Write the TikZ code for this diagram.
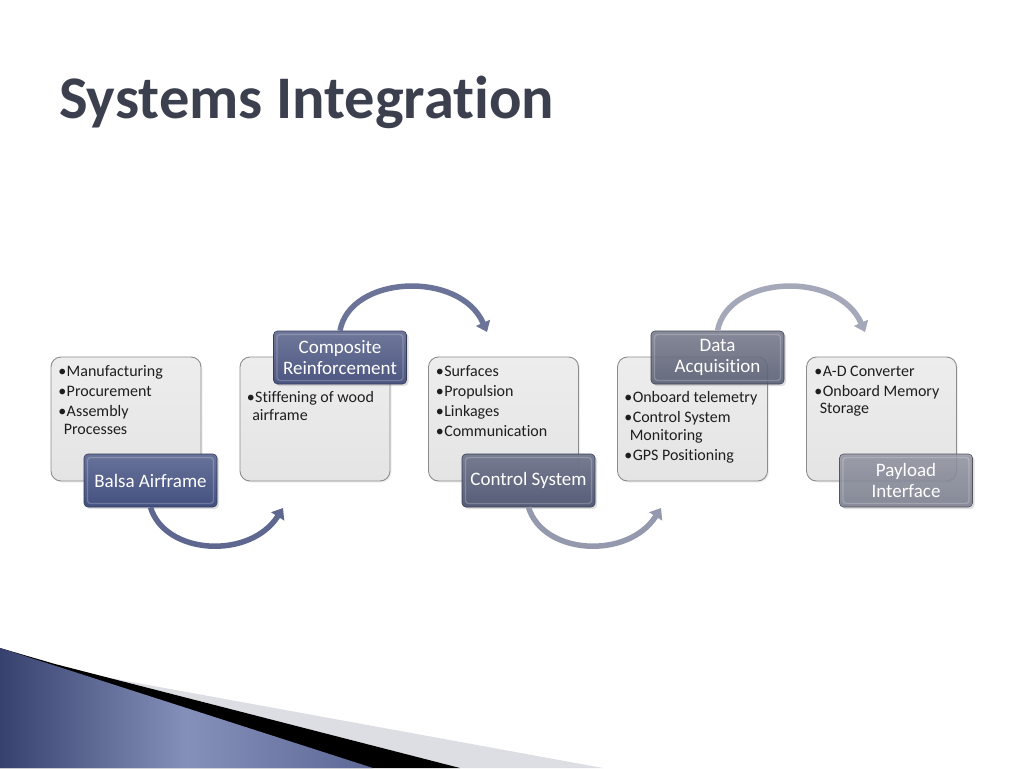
\documentclass[tikz,border=0pt]{standalone}
\usepackage{fontspec}
\setmainfont{Carlito}[Ligatures={NoCommon}]
\usetikzlibrary{arrows.meta,shadows}
\newcommand{\bitem}[1]{\par\noindent\hangindent=5.5pt\hangafter=1\makebox[8.5pt][l]{\textbullet}#1}
\newenvironment{blist}{\begin{minipage}[t]{150pt}\raggedright\setlength{\parskip}{2.6pt}\fontsize{16}{17.4}\selectfont}{\end{minipage}}
\definecolor{titlec}{HTML}{3C3F4D}
\definecolor{lboxline}{HTML}{8C8C8E}
\definecolor{lboxtop}{HTML}{EDEDEE}
\definecolor{lboxbot}{HTML}{E4E4E5}
\definecolor{dA}{HTML}{435080}
\definecolor{dB}{HTML}{4C5681}
\definecolor{dC}{HTML}{4F5672}
\definecolor{dD}{HTML}{585D73}
\definecolor{dE}{HTML}{777B8B}
\definecolor{aA}{HTML}{5D6790}
\definecolor{aB}{HTML}{6B7398}
\definecolor{aC}{HTML}{9599AE}
\definecolor{aD}{HTML}{A5A8B8}
\definecolor{blA}{HTML}{36416E}
\definecolor{blB}{HTML}{8590BA}
\definecolor{blC}{HTML}{5C6796}
\definecolor{stripe}{HTML}{DCDEE4}
\definecolor{txt}{HTML}{1E1E1E}
\tikzset{
  lbox/.style={draw=lboxline, line width=0.9pt, rounded corners=10pt,
    top color=lboxtop, bottom color=lboxbot, minimum width=150pt,
    minimum height=124pt, inner sep=0pt,
    drop shadow={opacity=0.12, shadow xshift=1.5pt, shadow yshift=-1.5pt}},
  btext/.style={anchor=north west, inner sep=0pt, text=txt},
  dbox/.style={rounded corners=4pt, minimum width=133pt, minimum height=53pt,
    inner sep=2pt, align=center, text=white, font=\fontsize{19}{20.5}\selectfont,
    draw=#1!70!black, line width=0.6pt, top color=#1!80!white, bottom color=#1,
    drop shadow={opacity=0.25, shadow xshift=2pt, shadow yshift=-2pt},
    path picture={\draw[white, opacity=0.22, line width=1.3pt, rounded corners=3pt]
      ([shift={(3.5pt,-3.5pt)}]path picture bounding box.north west) rectangle
      ([shift={(-3.5pt,3.5pt)}]path picture bounding box.south east);}},
  arr/.style={draw=#1, line width=5.5pt, -{Triangle[width=15pt,length=10pt]}}
}
\begin{document}
\begin{tikzpicture}[x=1pt,y=-1pt]
\path[use as bounding box, fill=white] (0,0) rectangle (1024,768);

% bottom-left decoration
\fill[stripe] (110,678) -- (603,768) -- (460,768) -- cycle;
\fill[black] (0,648) -- (55,664) -- (460,768) -- (0,768) -- cycle;
\shade[left color=blA, right color=blC, middle color=blB] (0,648) -- (373,768) -- (0,768) -- cycle;

% title
\node[anchor=base west, inner sep=0pt, text=titlec, font=\fontsize{60.5}{70}\selectfont\bfseries] (title) at (59,118) {Systems Integration};

% light boxes
\node[lbox] (b1) at (126,419) {};
\node[lbox] (b2) at (315,419) {};
\node[lbox] (b3) at (503.5,419) {};
\node[lbox] (b4) at (692.5,419) {};
\node[lbox] (b5) at (881.5,419) {};

\node[btext] (t1) at ([shift={(7.5pt,-9pt)}]b1.north west) {\begin{blist}\bitem{Manufacturing}\bitem{Procurement}\bitem{Assembly\newline Processes}\end{blist}};
\node[btext] (t2) at ([shift={(7pt,-35pt)}]b2.north west) {\begin{blist}\bitem{Stiffening of wood\newline airframe}\end{blist}};
\node[btext] (t3) at ([shift={(7.5pt,-9pt)}]b3.north west) {\begin{blist}\bitem{Surfaces}\bitem{Propulsion}\bitem{Linkages}\bitem{Communication}\end{blist}};
\node[btext] (t4) at ([shift={(7pt,-35pt)}]b4.north west) {\begin{blist}\bitem{Onboard telemetry}\bitem{Control System\newline Monitoring}\bitem{GPS Positioning}\end{blist}};
\node[btext] (t5) at ([shift={(8pt,-9pt)}]b5.north west) {\begin{blist}\bitem{A-D Converter}\bitem{Onboard Memory\newline Storage}\end{blist}};

% dark boxes
\node[dbox=dA] (d1) at (150.5,480.5) {Balsa Airframe};
\node[dbox=dB] (d2) at (340,357.5) {Composite\\Reinforcement};
\node[dbox=dC, fill opacity=0.95, text opacity=1] (d3) at (528.5,480.5) {Control System};
\node[dbox=dD, fill opacity=0.88, text opacity=1] (d4) at (717.5,357.5) {Data\\Acquisition};
\node[dbox=dE, fill opacity=0.85, text opacity=1] (d5) at (906,480.5) {Payload\\Interface};

% arrow tips
\coordinate (e1) at (283,508);
\coordinate (e2) at (487,332);
\coordinate (e3) at (661,508);
\coordinate (e4) at (865,332);

\draw[arr=aA] (d1.south) .. controls (165,555) and (250,560) .. (e1);
\draw[arr=aB] (d2.north) .. controls (350,275) and (460,270) .. (e2);
\draw[arr=aC] (d3.south) .. controls (543,555) and (628,560) .. (e3);
\draw[arr=aD] (d4.north) .. controls (728,275) and (838,270) .. (e4);
\end{tikzpicture}
\end{document}
